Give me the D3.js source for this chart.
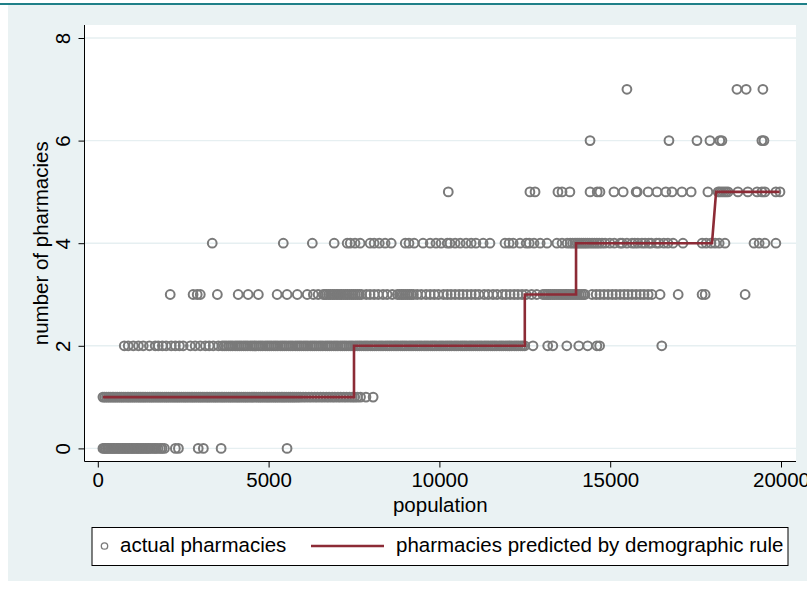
<!DOCTYPE html>
<html>
<head>
<meta charset="utf-8">
<script src="https://cdn.jsdelivr.net/npm/d3@7"></script>
<style>
  html, body { margin: 0; padding: 0; background: #fff; }
  svg { display: block; font-family: "Liberation Sans", Arial, Helvetica, sans-serif; }
</style>
</head>
<body>
<svg id="chart" width="807" height="590"></svg>
<script>
// Town populations, grouped by the number of pharmacies actually present
const pop0 = [150, 190, 235, 280, 320, 365, 410, 455, 490, 540, 585, 625, 670, 715, 760, 800, 850, 890, 935, 980,
  1025, 1070, 1120, 1160, 1205, 1250, 1300, 1340, 1390, 1440, 1480, 1530, 1590, 1650, 1700, 1760, 1830, 1880, 1950,
  2270, 2360, 2940, 3090, 3610, 5540];
const pop1 = [150, 200, 255, 310, 360, 420, 470, 530, 580, 640, 690, 745, 800, 860, 910, 965, 1020, 1075, 1130, 1190,
  1240, 1295, 1350, 1400, 1460, 1515, 1570, 1620, 1680, 1735, 1790, 1845, 1900, 1960, 2010, 2065, 2120, 2180, 2230,
  2290, 2340, 2395, 2450, 2510, 2560, 2615, 2670, 2730, 2780, 2835, 2890, 2950, 3000, 3055, 3110, 3170, 3220, 3275,
  3330, 3390, 3440, 3495, 3550, 3610, 3660, 3715, 3770, 3830, 3880, 3935, 3990, 4050, 4100, 4155, 4210, 4270, 4320,
  4375, 4430, 4490, 4540, 4595, 4650, 4710, 4760, 4815, 4870, 4930, 4980, 5035, 5090, 5150, 5200, 5255, 5310, 5370,
  5420, 5475, 5530, 5590, 5640, 5700, 5750, 5810, 5870, 5930, 6010, 6090, 6180, 6260, 6350, 6430, 6520, 6600, 6690,
  6770, 6860, 6940, 7030, 7110, 7200, 7280, 7370, 7450, 7520, 7600, 7690, 7850, 8060];
const pop2 = [775, 890, 1040, 1190, 1330, 1510, 1680, 1770, 1890, 2000, 2150, 2270, 2390, 2500, 2710, 2850, 3000,
  3150, 3260, 3380, 3530, 3640, 3700, 3760, 3830, 3890, 3950, 4020, 4080, 4140, 4200, 4270, 4330, 4390, 4460, 4520,
  4580, 4640, 4710, 4770, 4830, 4900, 4960, 5020, 5080, 5150, 5210, 5270, 5340, 5400, 5460, 5520, 5590, 5650, 5710,
  5780, 5840, 5900, 5960, 6030, 6090, 6150, 6220, 6280, 6340, 6400, 6470, 6530, 6590, 6660, 6720, 6780, 6840, 6910,
  6970, 7030, 7100, 7160, 7220, 7280, 7350, 7410, 7470, 7540, 7600, 7660, 7720, 7790, 7850, 7910, 7980, 8040, 8100,
  8160, 8230, 8290, 8350, 8420, 8480, 8540, 8600, 8670, 8730, 8790, 8860, 8920, 8980, 9040, 9110, 9170, 9230, 9300,
  9360, 9420, 9480, 9550, 9610, 9670, 9740, 9800, 9860, 9920, 9990, 10050, 10110, 10180, 10240, 10300, 10360, 10430,
  10490, 10550, 10620, 10680, 10740, 10800, 10870, 10930, 10990, 11060, 11120, 11180, 11240, 11310, 11370, 11430,
  11500, 11560, 11620, 11680, 11750, 11810, 11870, 11940, 12000, 12060, 12120, 12190, 12250, 12310, 12380, 12440,
  12500, 12740, 13170, 13320, 13730, 14080, 14340, 14610, 14690, 16510];
const pop3 = [2120, 2790, 2910, 3000, 3500, 4110, 4400, 4700, 5250, 5540, 5840, 6130, 6310, 6450, 6600, 6650, 6700,
  6760, 6810, 6870, 6920, 6980, 7030, 7090, 7140, 7200, 7260, 7310, 7370, 7430, 7480, 7540, 7600, 7660, 7720, 7860,
  7970, 8090, 8210, 8350, 8470, 8620, 8770, 8830, 8890, 8940, 9000, 9060, 9120, 9180, 9240, 9350, 9470, 9610, 9730,
  9850, 9970, 10120, 10230, 10340, 10460, 10580, 10690, 10810, 10930, 11050, 11160, 11310, 11430, 11570, 11690,
  11840, 11950, 12070, 12190, 12300, 12420, 12540, 12700, 12850, 13030, 13090, 13150, 13200, 13260, 13320, 13380,
  13440, 13500, 13560, 13620, 13680, 13730, 13790, 13850, 13910, 13970, 14030, 14090, 14150, 14210, 14260, 14470,
  14590, 14700, 14820, 14940, 15060, 15170, 15290, 15410, 15520, 15640, 15760, 15880, 15990, 16110, 16220, 16460,
  16990, 17690, 17780, 18950];
const pop4 = [3350, 5430, 6280, 6920, 7300, 7390, 7530, 7680, 7970, 8090, 8240, 8410, 8590, 9000, 9110, 9260, 9520,
  9730, 9900, 10050, 10230, 10310, 10460, 10610, 10780, 10930, 11070, 11280, 11480, 11920, 12040, 12160, 12360,
  12540, 12630, 12770, 12950, 13150, 13440, 13590, 13740, 13830, 13900, 13970, 14030, 14090, 14150, 14210, 14270,
  14330, 14400, 14470, 14540, 14610, 14680, 14760, 14850, 14990, 15120, 15290, 15350, 15490, 15640, 15720, 15810,
  15930, 16020, 16130, 16200, 16350, 16430, 16570, 16690, 16840, 17130, 17690, 17810, 17950, 18070, 18190, 18360,
  19210, 19360, 19530, 19850];
const pop5 = [10260, 12650, 12800, 13470, 13590, 13820, 14410, 14620, 14700, 15110, 15380, 15760, 15790, 16110,
  16370, 16630, 16810, 17100, 17370, 17860, 18160, 18210, 18270, 18330, 18390, 18450, 18740, 19030, 19300, 19440,
  19530, 19850, 19970];
const pop6 = [14410, 16720, 17540, 17920, 18210, 18270, 19440, 19500];
const pop7 = [15490, 18710, 18980, 19470];
const actualByCount = [pop0, pop1, pop2, pop3, pop4, pop5, pop6, pop7];

// Pharmacies allowed by the demographic rule (step function of population)
const rulePop = [150, 7500, 7500, 12500, 12500, 14000, 14000, 17980, 18100, 19960];
const ruleCount = [1, 1, 2, 2, 3, 3, 4, 4, 5, 5];

const xTicks = [0, 5000, 10000, 15000, 20000];
const yTicks = [0, 2, 4, 6, 8];
const xTitle = "population";
const yTitle = "number of pharmacies";
const legendLabels = ["actual pharmacies", "pharmacies predicted by demographic rule"];

const W = 807, H = 590;
const plot = { left: 84.5, right: 796, top: 25, bottom: 461.5 };
const markerColor = "#7a7a7a";
const lineColor = "#8c2b36";
const fontSize = 20.5;

const svg = d3.select("#chart");
const x = d3.scaleLinear().domain([0, 20000]).range([97.8, 781]);
const y = d3.scaleLinear().domain([0, 8]).range([448.4, 38]);

// Backgrounds
svg.append("rect").attr("width", W).attr("height", H).attr("fill", "#fff");
svg.append("rect").attr("x", 0).attr("y", 3).attr("width", W).attr("height", 2).attr("fill", "#1f8088");
svg.append("rect").attr("x", 8).attr("y", 5).attr("width", W - 8).attr("height", 576).attr("fill", "#eaf2f3");
svg.append("rect")
  .attr("x", plot.left).attr("y", plot.top)
  .attr("width", plot.right - plot.left).attr("height", plot.bottom - plot.top)
  .attr("fill", "#fff");

// Horizontal grid lines
svg.append("g").selectAll("line").data(yTicks).join("line")
  .attr("x1", plot.left).attr("x2", plot.right)
  .attr("y1", d => y(d)).attr("y2", d => y(d))
  .attr("stroke", "#e6eff1").attr("stroke-width", 1.4);

// Actual pharmacies: hollow circles
const points = actualByCount.flatMap((pops, n) => pops.map(p => ({ p, n })));
svg.append("g").selectAll("circle").data(points).join("circle")
  .attr("cx", d => x(d.p)).attr("cy", d => y(d.n)).attr("r", 4.4)
  .attr("fill", "none").attr("stroke", markerColor).attr("stroke-width", 2);

// Rule prediction: connected line
const rule = rulePop.map((p, i) => ({ p, n: ruleCount[i] }));
svg.append("path").datum(rule)
  .attr("d", d3.line().x(d => x(d.p)).y(d => y(d.n)))
  .attr("fill", "none").attr("stroke", lineColor).attr("stroke-width", 2.6)
  .attr("stroke-linejoin", "miter");

// Axis lines
svg.append("line").attr("x1", plot.left).attr("x2", plot.left).attr("y1", plot.top).attr("y2", plot.bottom)
  .attr("stroke", "#000").attr("stroke-width", 1);
svg.append("line").attr("x1", plot.left).attr("x2", plot.right).attr("y1", plot.bottom).attr("y2", plot.bottom)
  .attr("stroke", "#000").attr("stroke-width", 1);

// Y axis with vertical tick labels
const yAxis = svg.append("g").attr("transform", `translate(${plot.left},0)`)
  .call(d3.axisLeft(y).tickValues(yTicks).tickSize(6).tickFormat(d3.format("d")));
yAxis.select(".domain").remove();
yAxis.selectAll("text")
  .attr("x", 0).attr("dy", 0)
  .attr("transform", "translate(-14.5,0) rotate(-90)")
  .attr("text-anchor", "middle")
  .attr("font-size", fontSize).attr("font-family", null).attr("fill", "#000");

// X axis
const xAxis = svg.append("g").attr("transform", `translate(0,${plot.bottom})`)
  .call(d3.axisBottom(x).tickValues(xTicks).tickSize(6).tickFormat(d3.format("d")));
xAxis.select(".domain").remove();
xAxis.selectAll("text")
  .attr("y", 25.5).attr("dy", 0)
  .attr("font-size", fontSize).attr("font-family", null).attr("fill", "#000");

// Axis titles
svg.append("text").attr("x", (plot.left + plot.right) / 2).attr("y", 512)
  .attr("text-anchor", "middle").attr("font-size", fontSize).text(xTitle);
svg.append("text")
  .attr("transform", `translate(48,${(plot.top + plot.bottom) / 2}) rotate(-90)`)
  .attr("text-anchor", "middle").attr("font-size", fontSize).text(yTitle);

// Legend
const legend = svg.append("g");
legend.append("rect").attr("x", 92).attr("y", 527.5).attr("width", 696).attr("height", 38)
  .attr("fill", "#fff").attr("stroke", "#000").attr("stroke-width", 1);
legend.append("circle").attr("cx", 104.5).attr("cy", 546).attr("r", 3.2)
  .attr("fill", "none").attr("stroke", markerColor).attr("stroke-width", 1.3);
legend.append("text").attr("x", 120).attr("y", 552).attr("font-size", fontSize).text(legendLabels[0]);
legend.append("line").attr("x1", 311).attr("x2", 384).attr("y1", 546).attr("y2", 546)
  .attr("stroke", lineColor).attr("stroke-width", 2.6);
legend.append("text").attr("x", 396).attr("y", 552).attr("font-size", fontSize).text(legendLabels[1]);
</script>
</body>
</html>
